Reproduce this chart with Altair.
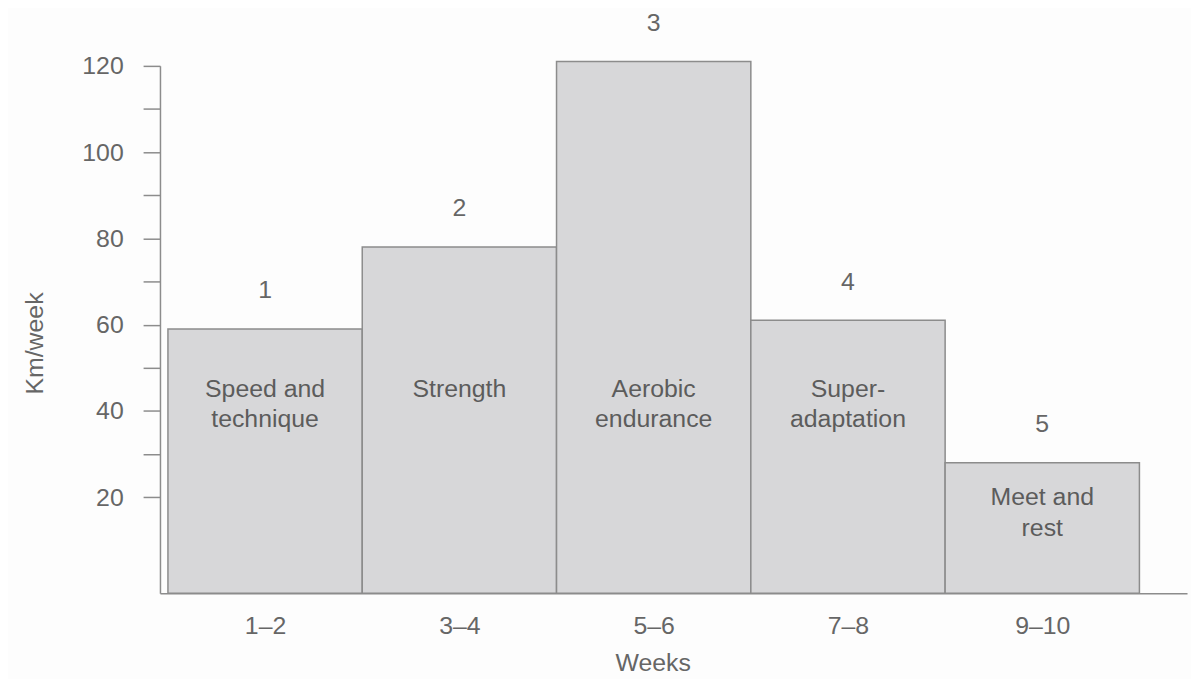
import json
import altair as alt
import pandas as pd

# ---- data ----
weeks = ["1–2", "3–4", "5–6", "7–8", "9–10"]
km_per_week = [59, 78, 121, 61, 28]
phase_numbers = ["1", "2", "3", "4", "5"]
phases = ["Speed and\ntechnique", "Strength", "Aerobic\nendurance",
          "Super-\nadaptation", "Meet and\nrest"]
y_tick_values = [20, 30, 40, 50, 60, 70, 80, 90, 100, 110, 120]

df = pd.DataFrame({
    "idx": list(range(len(weeks))),
    "weeks": weeks,
    "km": km_per_week,
    "num": phase_numbers,
    "phase": phases,
})
df["start"] = df["idx"]
df["end"] = df["idx"] + 1
df["mid"] = df["idx"] + 0.5

Y_MIN = -2.3
W, H = 1034, 531
FONT = "Liberation Sans"
FS = 25
GREY = "#666666"
DARK = "#5c5c5c"
LINE = "#8c8c8c"

xs = alt.Scale(domain=[-0.041, 5.245], nice=False, zero=False)
ys = alt.Scale(domain=[Y_MIN, 120], nice=False, zero=False)

label_expr = json.dumps(weeks) + "[floor(datum.value)]"

x_axis = alt.Axis(
    values=[i + 0.5 for i in range(len(weeks))],
    labelExpr=label_expr,
    ticks=False,
    title="Weeks",
    titleX=496, titleY=78, titleAlign="center", titleBaseline="alphabetic",
    titleFontSize=FS, titleFontWeight="normal", titleColor=GREY,
    labelFontSize=FS, labelColor=GREY, labelBaseline="middle", labelPadding=32,
    domainColor=LINE, domainWidth=1.5,
)
y_axis = alt.Axis(
    values=y_tick_values,
    labelExpr="datum.value % 20 == 0 ? datum.label : ''",
    tickSize=17, tickColor=LINE, tickWidth=1.5,
    labelFontSize=FS, labelColor=GREY, labelPadding=20,
    title="Km/week",
    titleX=-126, titleY=279, titleAlign="center", titleBaseline="middle",
    titleFontSize=FS, titleFontWeight="normal", titleColor=GREY,
    domainColor=LINE, domainWidth=1.5,
)

base = alt.Chart(df)

bars = base.mark_rect(fill="#d7d7d9", stroke=LINE, strokeWidth=1.5).encode(
    x=alt.X("start:Q", scale=xs, axis=x_axis),
    x2="end:Q",
    y=alt.Y("km:Q", scale=ys, axis=y_axis),
    y2=alt.datum(Y_MIN),
)

nums = base.mark_text(fontSize=FS, dy=-39, baseline="middle", color=GREY).encode(
    x=alt.X("mid:Q", scale=xs),
    y=alt.Y("km:Q", scale=ys),
    text="num:N",
)

names = base.transform_calculate(
    ty="min(datum.km - 9.8, 43.3)"
).mark_text(fontSize=FS, lineBreak="\n", lineHeight=31, baseline="alphabetic",
            color=DARK).encode(
    x=alt.X("mid:Q", scale=xs),
    y=alt.Y("ty:Q", scale=ys),
    text="phase:N",
)

chart = alt.layer(bars, nums, names).properties(
    width=W, height=H,
    autosize="none",
    padding={"left": 153, "top": 56, "right": 4, "bottom": 84},
    background="#fdfdfd",
).configure_view(strokeWidth=0).configure_axis(
    grid=False, labelFont=FONT, titleFont=FONT
).configure_text(font=FONT)

chart.save("out.html", embed_options={"renderer": "svg", "actions": False})
